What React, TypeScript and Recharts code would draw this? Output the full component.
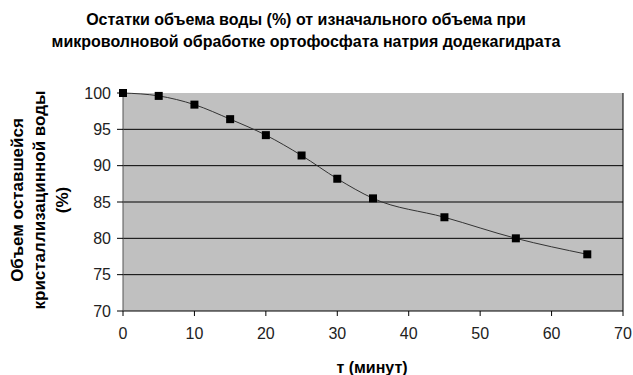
import React from 'react';
import { LineChart, Line, XAxis, YAxis, ReferenceArea, ReferenceLine, Label } from 'recharts';

const minutes = [0, 5, 10, 15, 20, 25, 30, 35, 45, 55, 65];
const waterLeft = [100, 99.6, 98.4, 96.4, 94.2, 91.4, 88.2, 85.5, 82.9, 80.0, 77.8];
const xTicks = [0, 10, 20, 30, 40, 50, 60, 70];
const yTicks = [70, 75, 80, 85, 90, 95, 100];
const gridValues = [75, 80, 85, 90, 95];

const titleLines = [
  'Остатки объема воды (%) от изначального объема при',
  'микроволновой обработке ортофосфата натрия додекагидрата',
];
const yLabelLines = ['Объем оставшейся', 'кристаллизацинной воды', '(%)'];
const xLabel = 'т (минут)';

const data = minutes.map((m, i) => ({ t: m, v: waterLeft[i] }));

const FONT = '"Liberation Sans", Arial, sans-serif';

const SquareDot = (props: any) => {
  const { cx, cy } = props;
  if (cx == null || cy == null) return null;
  return <rect x={cx - 4} y={cy - 4} width={8} height={8} fill="#000" />;
};

const YLabelContent = () => (
  <g>
    {yLabelLines.map((s, i) => (
      <text
        key={i}
        x={0}
        y={0}
        transform={`translate(${17 + i * 22.5}, 200) rotate(-90)`}
        textAnchor="middle"
        dominantBaseline="central"
        fontFamily={FONT}
        fontWeight="bold"
        fontSize={17}
        fill="#000"
      >
        {s}
      </text>
    ))}
  </g>
);

const XLabelContent = () => (
  <text
    x={372}
    y={367}
    textAnchor="middle"
    dominantBaseline="central"
    fontFamily={FONT}
    fontWeight="bold"
    fontSize={16}
    fill="#000"
  >
    {xLabel}
  </text>
);

export default function App() {
  return (
    <div style={{ position: 'absolute', left: 0, top: 0, width: 633, height: 375, background: '#fff', overflow: 'hidden' }}>
      <div
        style={{
          position: 'absolute',
          left: 0,
          top: 9,
          width: 612,
          textAlign: 'center',
          fontFamily: FONT,
          fontWeight: 'bold',
          fontSize: 16,
          lineHeight: '22px',
          color: '#000',
        }}
      >
        {titleLines.map((s, i) => (
          <div key={i}>{s}</div>
        ))}
      </div>
      <LineChart width={633} height={375} data={data} margin={{ top: 93, right: 10, left: 0, bottom: 0 }}>
        <XAxis
          dataKey="t"
          type="number"
          domain={[0, 70]}
          ticks={xTicks}
          height={64}
          tickSize={5}
          tickMargin={12}
          axisLine={{ stroke: '#000' }}
          tickLine={{ stroke: '#000' }}
          tick={{ fontFamily: FONT, fontSize: 16, fill: '#222' }}
          interval={0}
        >
          <Label content={XLabelContent} />
        </XAxis>
        <YAxis
          type="number"
          domain={[70, 100]}
          ticks={yTicks}
          width={123}
          tickSize={6}
          tickMargin={6}
          axisLine={{ stroke: '#555' }}
          tickLine={{ stroke: '#000' }}
          tick={{ fontFamily: FONT, fontSize: 16, fill: '#222' }}
          interval={0}
        >
          <Label content={YLabelContent} />
        </YAxis>
        <ReferenceArea x1={0} x2={70} y1={70} y2={100} fill="#C0C0C0" fillOpacity={1} stroke="none" />
        {gridValues.map((g) => (
          <ReferenceLine key={g} y={g} stroke="#000" strokeWidth={1} />
        ))}
        <ReferenceLine x={70} stroke="#000" strokeWidth={1} />
        <Line
          type="monotone"
          dataKey="v"
          stroke="#333"
          strokeWidth={1}
          dot={<SquareDot />}
          activeDot={false}
          isAnimationActive={false}
        />
      </LineChart>
    </div>
  );
}
